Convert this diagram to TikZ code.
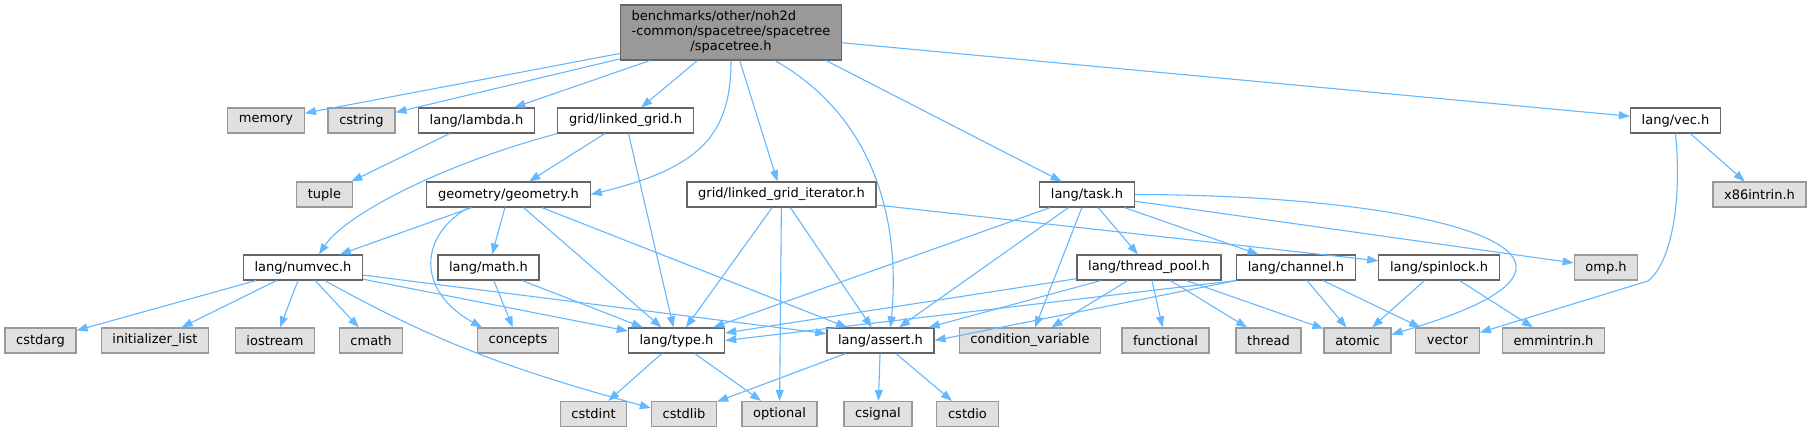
\documentclass[tikz,border=0pt]{standalone}
\usepackage{fontspec}
\setmainfont{DejaVu Sans}
\usetikzlibrary{arrows.meta}
\definecolor{edgeblue}{HTML}{63B8FF}
\definecolor{boxline}{HTML}{666666}
\definecolor{sysline}{HTML}{999999}
\definecolor{sysfill}{HTML}{E0E0E0}
\definecolor{mainfill}{HTML}{999999}

\begin{document}
\begin{tikzpicture}[x=0.5pt, y=-0.5pt,
  hfile/.style={draw=boxline, fill=white, line width=0.6pt, minimum height=12.5pt,
    inner xsep=5.6pt, inner ysep=0pt, font=\fontsize{6.5}{7.5}\selectfont},
  sysfile/.style={hfile, draw=sysline, fill=sysfill},
  mainfile/.style={hfile, fill=mainfill, inner ysep=2.5pt},
  dep/.style={draw=edgeblue, line width=0.55pt, -{Triangle[length=5.5pt,width=4pt]}}]
  \fill[white] (0,0) rectangle (1811,432);
  \useasboundingbox (0,0) rectangle (1811,432);

  % top file
  \node[mainfile] (main) at (731,32.5) {\begin{tabular}{@{}l@{}}benchmarks/other/noh2d\\-common/spacetree/spacetree\\\multicolumn{1}{@{}c@{}}{/spacetree.h}\end{tabular}};

  % first level
  \node[sysfile] (memory) at (266,120.5) {memory};
  \node[sysfile] (cstring) at (361.5,120.5) {cstring};
  \node[hfile] (lambda) at (476.5,120.5) {lang/lambda.h};
  \node[hfile] (lgrid) at (625.5,120.5) {grid/linked\_grid.h};
  \node[hfile] (vec) at (1675.5,120.5) {lang/vec.h};

  \node[sysfile] (tuple) at (324.5,194.5) {tuple};
  \node[hfile] (geometry) at (508.5,194.5) {geometry/geometry.h};
  \node[hfile] (lgiter) at (781.5,194.5) {grid/linked\_grid\_iterator.h};
  \node[hfile] (task) at (1087,194.5) {lang/task.h};
  \node[sysfile] (x86intrin) at (1759.5,194.5) {x86intrin.h};

  \node[hfile] (numvec) at (303,267.5) {lang/numvec.h};
  \node[hfile] (math) at (488.5,267.5) {lang/math.h};
  \node[hfile] (threadpool) at (1149,267.5) {lang/thread\_pool.h};
  \node[hfile] (channel) at (1296,267.5) {lang/channel.h};
  \node[hfile] (spinlock) at (1439,267.5) {lang/spinlock.h};
  \node[sysfile] (omp) at (1606,267.5) {omp.h};

  \node[sysfile] (cstdarg) at (40.5,340.5) {cstdarg};
  \node[sysfile] (initlist) at (155,340.5) {initializer\_list};
  \node[sysfile] (iostream) at (275,340.5) {iostream};
  \node[sysfile] (cmath) at (371,340.5) {cmath};
  \node[sysfile] (concepts) at (518,340.5) {concepts};
  \node[hfile] (type) at (676.5,340.5) {lang/type.h};
  \node[hfile] (assert) at (880.5,340.5) {lang/assert.h};
  \node[sysfile] (condvar) at (1030,340.5) {condition\_variable};
  \node[sysfile] (functional) at (1165.5,340.5) {functional};
  \node[sysfile] (thread) at (1268.5,340.5) {thread};
  \node[sysfile] (atomic) at (1357.5,340.5) {atomic};
  \node[sysfile] (vector) at (1447.5,340.5) {vector};
  \node[sysfile] (emmintrin) at (1553.5,340.5) {emmintrin.h};

  \node[sysfile] (cstdint) at (593.5,414) {cstdint};
  \node[sysfile] (cstdlib) at (684,414) {cstdlib};
  \node[sysfile] (optional) at (779.5,414) {optional};
  \node[sysfile] (csignal) at (878,414) {csignal};
  \node[sysfile] (cstdio) at (967.5,414) {cstdio};

  % includes of spacetree.h
  \draw[dep] (main) -- (memory);
  \draw[dep] (main) -- (cstring);
  \draw[dep] (main) -- (lambda);
  \draw[dep] (main) -- (lgrid);
  \draw[dep] (main.south) .. controls (731,135) and (700,168) .. (geometry.east);
  \draw[dep] (main) -- (lgiter);
  \draw[dep] ([xshift=22pt]main.south) .. controls (880,120) and (900,230) .. ([xshift=5pt]assert.north);
  \draw[dep] ([xshift=-8pt]main.south east) -- (task);
  \draw[dep] (main) -- (vec);

  \draw[dep] (lambda) -- (tuple);

  \draw[dep] (lgrid.south west) .. controls (440,165) and (345,215) .. ([xshift=8pt]numvec.north);
  \draw[dep] (lgrid) -- (geometry);
  \draw[dep] (lgrid) -- (type);

  \draw[dep] (geometry) -- (numvec);
  \draw[dep] ([xshift=-20pt]geometry.south) .. controls (420,235) and (415,290) .. ([xshift=-18pt]concepts.north);
  \draw[dep] (geometry) -- (math);
  \draw[dep] (geometry) -- (type);
  \draw[dep] (geometry) -- (assert);

  \draw[dep] (lgiter) -- (type);
  \draw[dep] (lgiter) -- (optional);
  \draw[dep] (lgiter) -- (assert);
  \draw[dep] (lgiter) -- (spinlock);

  \draw[dep] (task) -- (type);
  \draw[dep] (task) -- (assert);
  \draw[dep] (task) -- (condvar);
  \draw[dep] (task) -- (threadpool);
  \draw[dep] (task) -- (channel);
  \draw[dep] (task) -- (omp);
  \draw[dep] (task.east) .. controls (1350,195) and (1510,225) .. (1516,265) .. controls (1520,295) and (1440,320) .. ([yshift=3pt]atomic.east);

  \draw[dep] (vec) -- (x86intrin);
  \draw[dep] (vec.south) .. controls (1682,200) and (1672,262) .. (1648,281) -- ([yshift=4pt]vector.east);

  \draw[dep] (numvec) -- (cstdarg);
  \draw[dep] (numvec) -- (initlist);
  \draw[dep] (numvec) -- (iostream);
  \draw[dep] (numvec) -- (cmath);
  \draw[dep] ([xshift=11pt]numvec.south) .. controls (440,345) and (520,372) .. ([yshift=3pt]cstdlib.west);
  \draw[dep] (numvec) -- (type);
  \draw[dep] (numvec) -- (assert);

  \draw[dep] (math) -- (concepts);
  \draw[dep] (math) -- (type);

  \draw[dep] (threadpool) -- (type);
  \draw[dep] (threadpool) -- (assert);
  \draw[dep] (threadpool) -- (condvar);
  \draw[dep] (threadpool) -- (functional);
  \draw[dep] (threadpool) -- (thread);
  \draw[dep] (threadpool) -- (atomic);

  \draw[dep] (channel.south west) -- (type.east);
  \draw[dep] (channel.south west) -- (assert.east);
  \draw[dep] (channel) -- (atomic);
  \draw[dep] (channel) -- (vector);

  \draw[dep] (spinlock) -- (atomic);
  \draw[dep] (spinlock) -- (emmintrin);

  \draw[dep] (type) -- (cstdint);
  \draw[dep] (type) -- (optional);

  \draw[dep] (assert) -- (cstdlib);
  \draw[dep] (assert) -- (csignal);
  \draw[dep] (assert) -- (cstdio);
\end{tikzpicture}
\end{document}
